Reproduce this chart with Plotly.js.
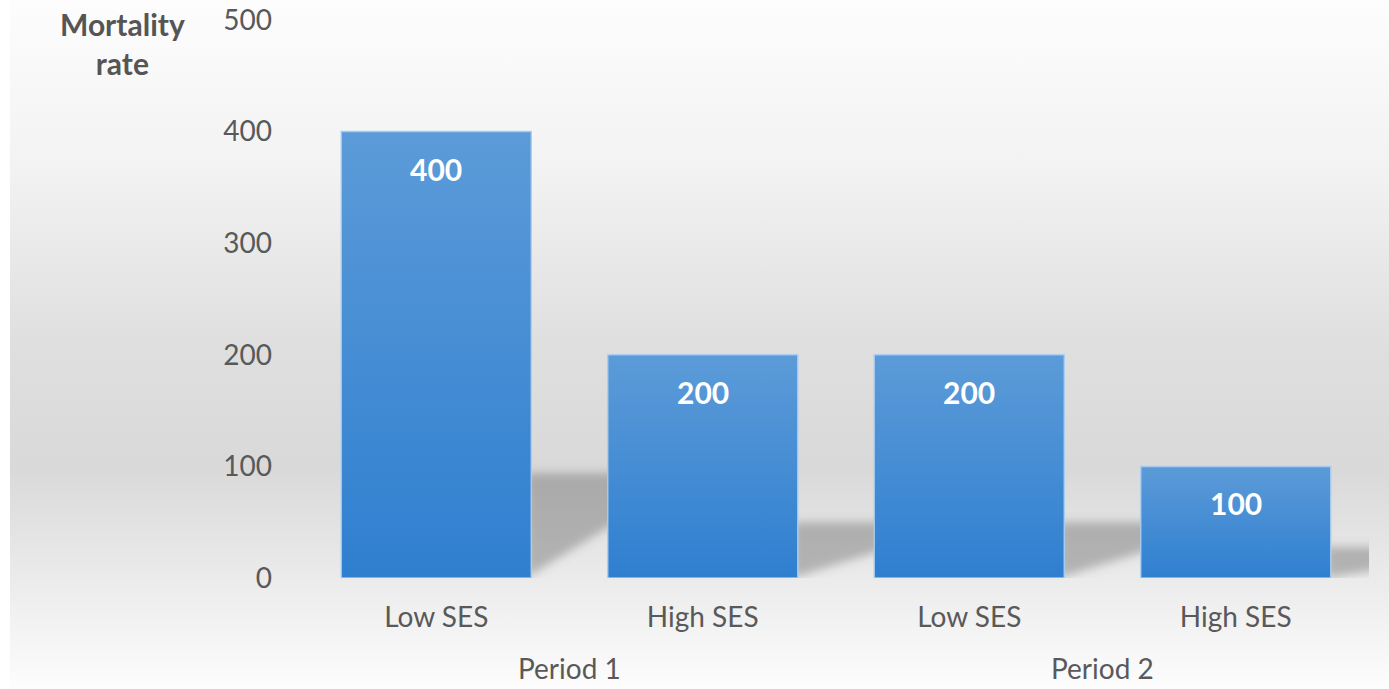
<!DOCTYPE html>
<html>
<head>
<meta charset="utf-8">
<script src="https://cdn.plot.ly/plotly-3.0.1.min.js"></script>
<style>
  html, body { margin: 0; padding: 0; background: #ffffff; }
  #wrap { position: relative; width: 1389px; height: 689px; overflow: hidden; }
  #panel {
    position: absolute; left: 10px; top: 0; right: 0; bottom: 0;
    background: linear-gradient(to bottom, #fdfdfd 0%, #f2f2f2 25%, #dfdfdf 50%, #d9d9d9 68%, #ebebeb 84%, #fdfdfd 100%);
  }
  #chart { position: absolute; left: 0; top: 0; width: 1389px; height: 689px; }
</style>
</head>
<body>
<div id="wrap"><div id="panel"></div><div id="chart"></div></div>
<script>
// Mortality rate by socioeconomic status, two periods
const periods   = ['Period 1', 'Period 1', 'Period 2', 'Period 2'];
const sesGroups = ['Low SES', 'High SES', 'Low SES', 'High SES'];
const mortality = [400, 200, 200, 100];
const yTicks    = [0, 100, 200, 300, 400, 500];

const FONT = 'Lato, "Open Sans", sans-serif';
const GREY = '#595959';
const BAR_GAP = 0.287;
const BAR_W = 1 - BAR_GAP;

const W = 1389, H = 689;
const M = { l: 303, r: 20, t: 20, b: 111 };
const plotW = W - M.l - M.r, plotH = H - M.t - M.b;

const xIdx = sesGroups.map((_, i) => i);

// Soft wall shadows cast to the right of each bar
const shadowShapes = mortality.map((v, i) => {
  const xr = i + BAR_W / 2 - 0.02;
  const L = 0.45;
  const top = 0.22 * v + 6;
  const bottom = 0.37 * v * L;
  return {
    type: 'path', xref: 'x', yref: 'y', layer: 'below',
    path: `M ${xr},0 L ${xr},${top} L ${xr + L},${top} L ${xr + L},${bottom} Z`,
    fillcolor: 'rgba(95,95,95,0.40)', line: { width: 0 }
  };
});

// Period captions centred under their groups
const periodNames = [...new Set(periods)];
const periodNotes = periodNames.map(p => {
  const members = xIdx.filter(i => periods[i] === p);
  const centre = members.reduce((a, b) => a + b, 0) / members.length;
  return {
    x: centre, xref: 'x', y: -(668 - (H - M.b)) / plotH, yref: 'paper', yanchor: 'middle',
    text: p, showarrow: false, borderpad: 0,
    font: { family: FONT, size: 28, color: GREY }
  };
});

// Value labels inside the top of each bar
const valueNotes = mortality.map((v, i) => ({
  x: i, y: v, xref: 'x', yref: 'y', yshift: -37, yanchor: 'middle',
  text: String(v), showarrow: false,
  font: { family: FONT, size: 30, color: '#ffffff', weight: 'bold' }
}));

// Axis caption in the top-left corner
const axisCaption = {
  x: (122 - M.l) / plotW, xref: 'paper', xanchor: 'center',
  y: (H - M.b - 44) / plotH, yref: 'paper', yanchor: 'middle',
  text: '<b>Mortality</b><br><b>rate</b>', showarrow: false,
  font: { family: FONT, size: 30, color: '#555555' }
};

const trace = {
  type: 'bar',
  x: xIdx,
  y: mortality,
  width: BAR_W,
  marker: { color: '#4a90d6', line: { color: 'rgba(170,205,240,0.9)', width: 1.5 } },
  hoverinfo: 'skip'
};

const layout = {
  width: W, height: H,
  margin: M,
  paper_bgcolor: 'rgba(0,0,0,0)',
  plot_bgcolor: 'rgba(0,0,0,0)',
  showlegend: false,
  font: { family: FONT, color: GREY },
  xaxis: {
    range: [-0.5, 3.5], fixedrange: true,
    tickmode: 'array', tickvals: xIdx, ticktext: sesGroups,
    showgrid: false, zeroline: false, showline: false, ticks: '',
    ticklabelstandoff: 20,
    tickfont: { family: FONT, size: 28, color: GREY }
  },
  yaxis: {
    range: [0, 500], fixedrange: true,
    tickmode: 'array', tickvals: yTicks,
    showgrid: false, zeroline: false, showline: false, ticks: '',
    ticklabelstandoff: 30,
    tickfont: { family: FONT, size: 28, color: GREY }
  },
  shapes: shadowShapes,
  annotations: [...valueNotes, ...periodNotes, axisCaption]
};

Plotly.newPlot('chart', [trace], layout, { displayModeBar: false, staticPlot: true }).then(gd => {
  const svg = gd.querySelector('svg.main-svg');
  const ns = 'http://www.w3.org/2000/svg';
  let defs = svg.querySelector('defs');
  if (!defs) { defs = document.createElementNS(ns, 'defs'); svg.insertBefore(defs, svg.firstChild); }

  // vertical fill for the bars: lighter at the top, deeper at the base
  const grad = document.createElementNS(ns, 'linearGradient');
  grad.setAttribute('id', 'barFill');
  grad.setAttribute('x1', '0'); grad.setAttribute('y1', '0');
  grad.setAttribute('x2', '0'); grad.setAttribute('y2', '1');
  [['0%', '#5c9bd8'], ['100%', '#2f7fd0']].forEach(([o, c]) => {
    const s = document.createElementNS(ns, 'stop');
    s.setAttribute('offset', o); s.setAttribute('stop-color', c);
    grad.appendChild(s);
  });
  defs.appendChild(grad);

  // blur for the shadows
  const filt = document.createElementNS(ns, 'filter');
  filt.setAttribute('id', 'shadowBlur');
  filt.setAttribute('x', '-50%'); filt.setAttribute('y', '-50%');
  filt.setAttribute('width', '200%'); filt.setAttribute('height', '200%');
  const blur = document.createElementNS(ns, 'feGaussianBlur');
  blur.setAttribute('stdDeviation', '5');
  filt.appendChild(blur);
  defs.appendChild(filt);

  gd.querySelectorAll('.bars .point path').forEach(p => { p.style.fill = 'url(#barFill)'; });
  gd.querySelectorAll('.shapelayer path').forEach(p => {
    p.setAttribute('filter', 'url(#shadowBlur)');
    p.style.filter = 'url(#shadowBlur)';
  });
});
</script>
</body>
</html>
